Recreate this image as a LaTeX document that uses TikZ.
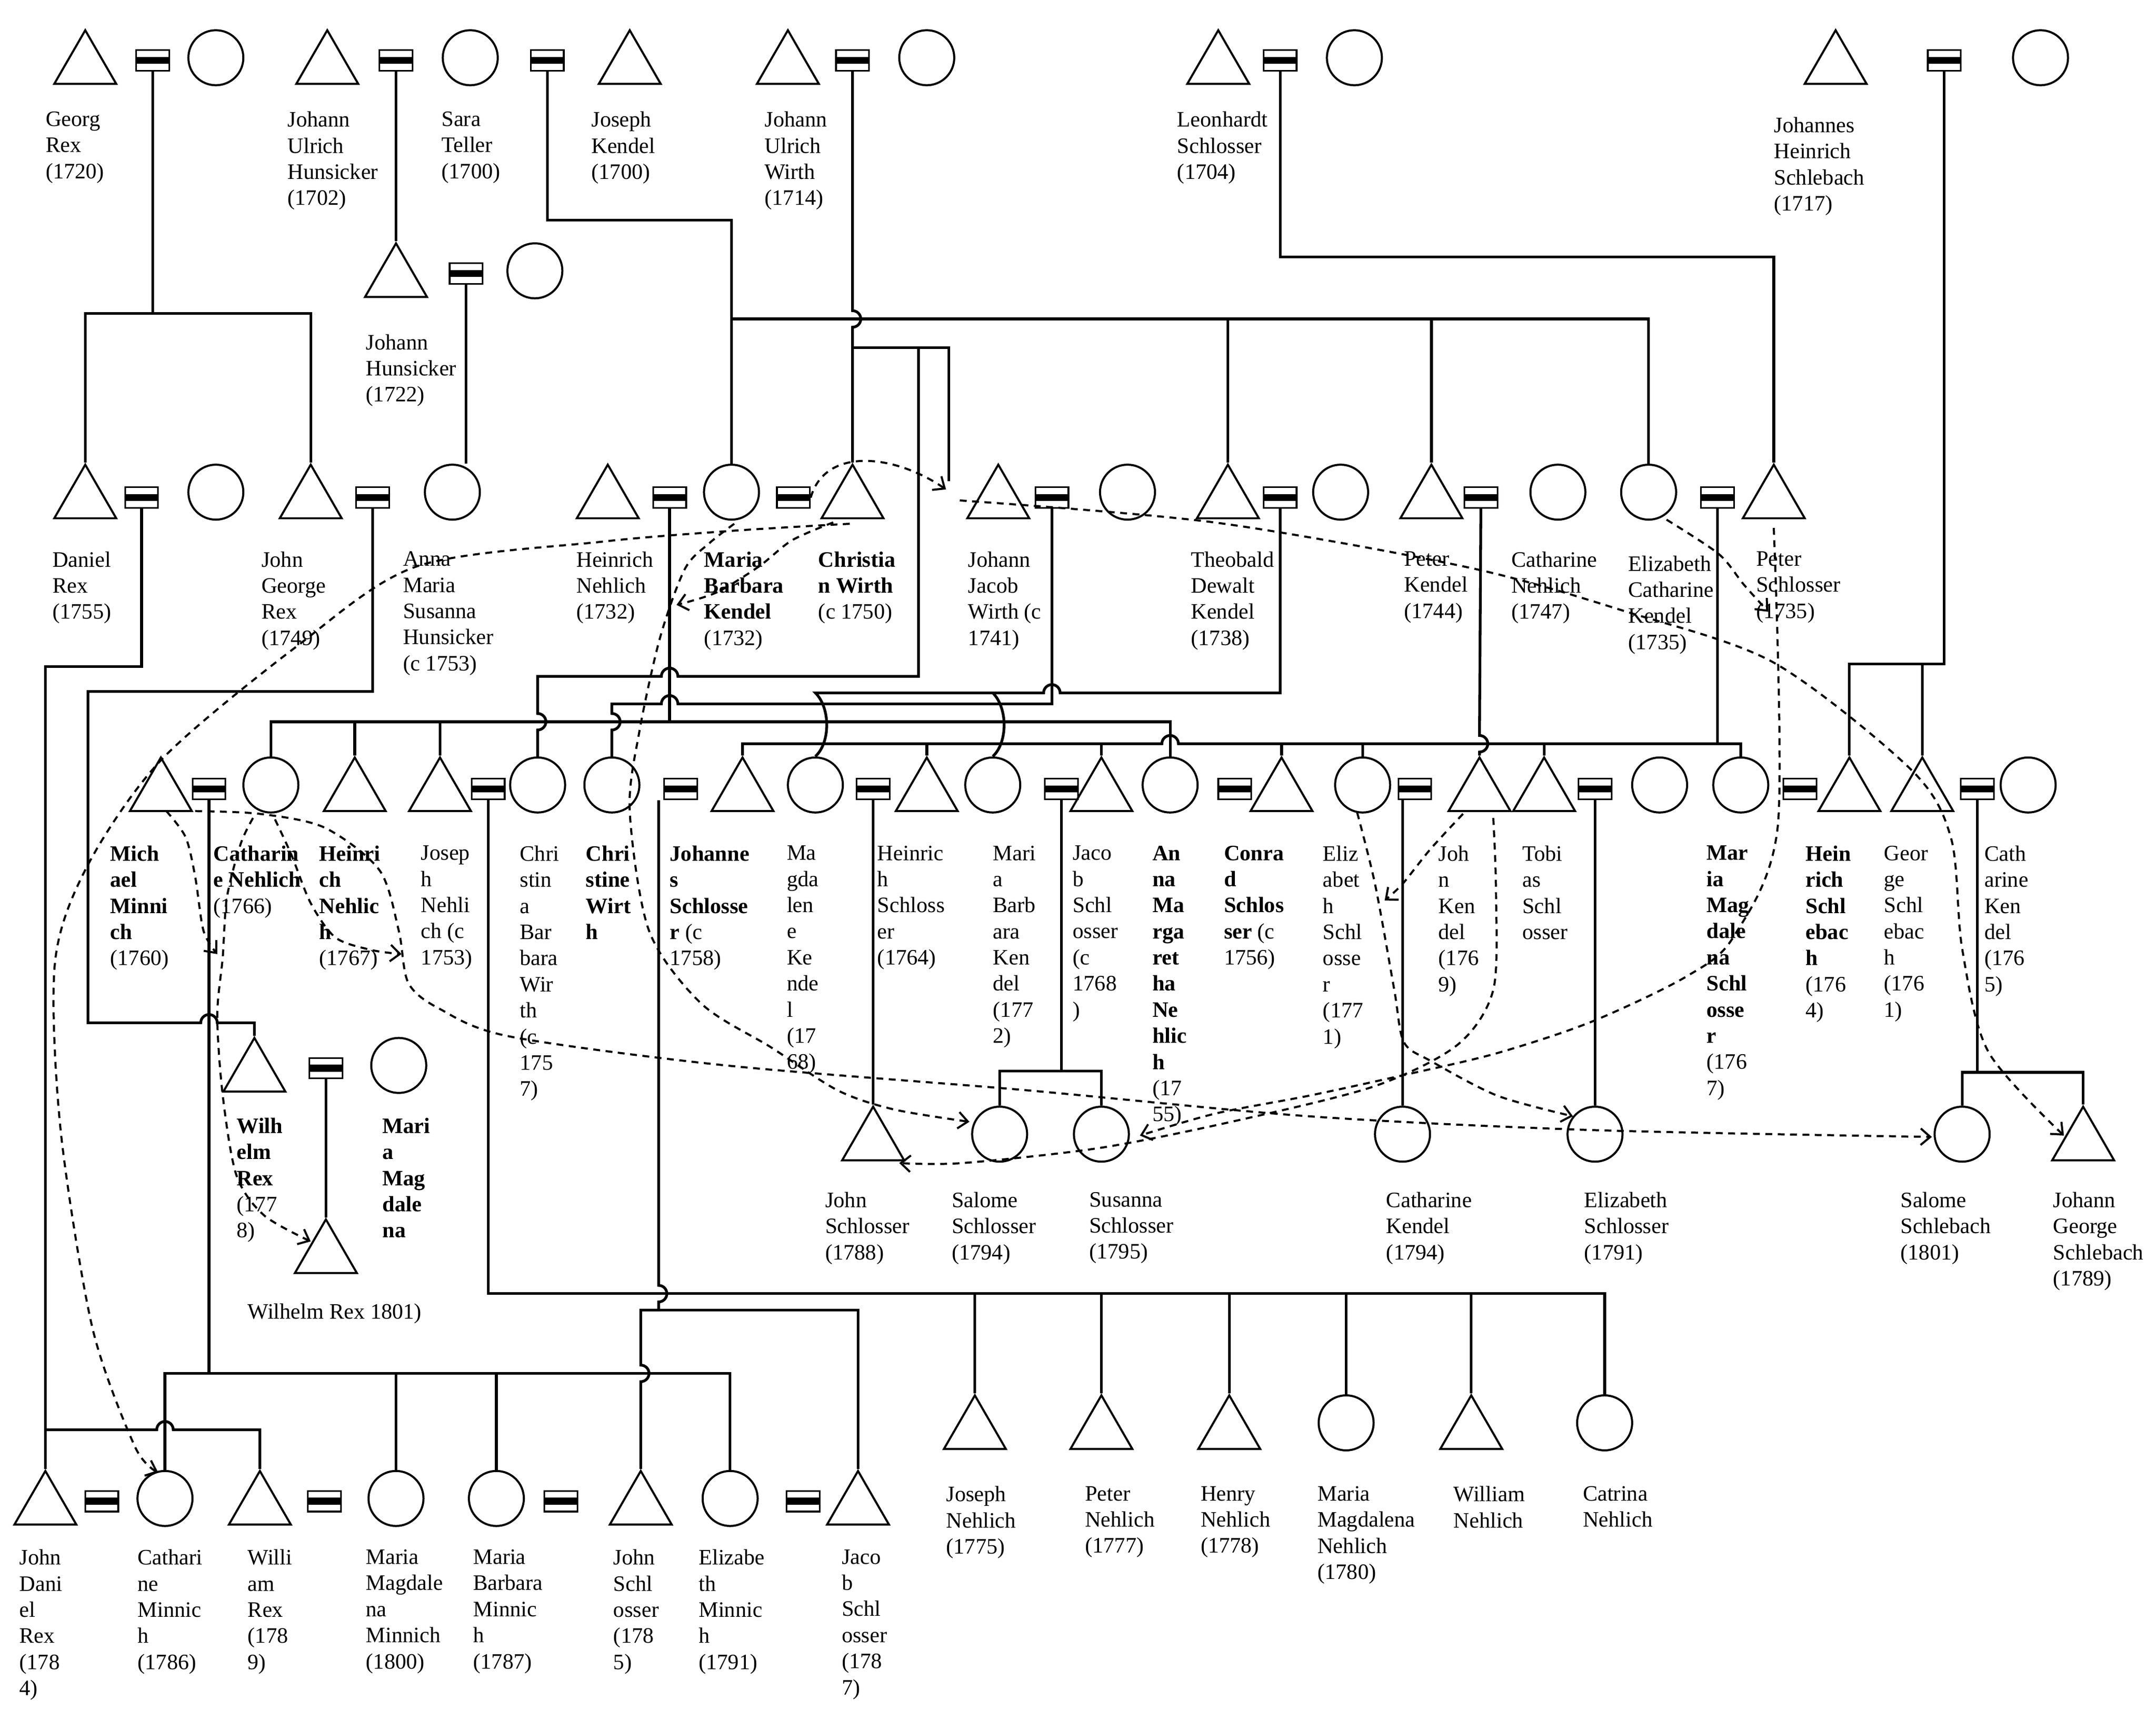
\documentclass[tikz,border=0pt]{standalone}
\usepackage{fontspec}
\setmainfont{Liberation Serif}
\usetikzlibrary{shapes.geometric,arrows.meta,calc}
\begin{document}
\begin{tikzpicture}[x=1pt,y=-1pt,
 male/.style={regular polygon, regular polygon sides=3, draw, line width=1.5pt, minimum size=52pt, inner sep=0pt},
 fem/.style={circle, draw, line width=1.5pt, minimum size=40pt, inner sep=0pt},
 mar/.style={rectangle, draw, line width=1.2pt, minimum width=24pt, minimum height=15pt, inner sep=0pt,
   path picture={\fill ([yshift=-2.5pt]path picture bounding box.west) rectangle ([yshift=2.5pt]path picture bounding box.east);}},
 lbl/.style={anchor=north west, inner sep=0pt, align=left, font=\fontsize{16}{19}\selectfont},
 ln/.style={line width=2pt},
 dl/.style={line width=1.5pt, dash pattern=on 5pt off 4pt, -{Straight Barb[length=7pt,width=12pt]}}]
\useasboundingbox (0,0) rectangle (1568,1251);
% ---------- Row 1
\node[male] (GRex) at (62,48) {}; \node[mar] (GRm) at (111,44) {}; \node[fem] (GRw) at (157,42) {};
\node[male] (JUH) at (238,48) {}; \node[mar] (JUHm) at (288,44) {}; \node[fem] (ST) at (342,42) {};
\node[mar] (JKm) at (398,44) {}; \node[male] (JK) at (458,48) {};
\node[male] (JUW) at (573,48) {}; \node[mar] (JUWm) at (620,44) {}; \node[fem] (JUWw) at (674,42) {};
\node[male] (LS) at (886,48) {}; \node[mar] (LSm) at (931,44) {}; \node[fem] (LSw) at (985,42) {};
\node[male] (JHS) at (1335,48) {}; \node[mar] (JHSm) at (1414,44) {}; \node[fem] (JHSw) at (1484,42) {};
\node[lbl] (tGR) at (33,81) {Georg\\Rex\\(1720)};
\node[lbl] (tJUH) at (209,81) {Johann\\Ulrich\\Hunsicker\\(1702)};
\node[lbl] (tST) at (321,81) {Sara\\Teller\\(1700)};
\node[lbl] (tJK) at (430,81) {Joseph\\Kendel\\(1700)};
\node[lbl] (tJUW) at (556,81) {Johann\\Ulrich\\Wirth\\(1714)};
\node[lbl] (tLS) at (856,81) {Leonhardt\\Schlosser\\(1704)};
\node[lbl] (tJHS) at (1290,85) {Johannes\\Heinrich\\Schlebach\\(1717)};
% ---------- Row 1.5
\node[male] (JH) at (288,203) {}; \node[mar] (JHm) at (339,199) {}; \node[fem] (JHw) at (389,197) {};
\node[lbl] (tJH) at (266,243) {Johann\\Hunsicker\\(1722)};
% ---------- Row 2
\node[male] (DR) at (62,364) {}; \node[mar] (DRm) at (103,362) {}; \node[fem] (DRw) at (157,358) {};
\node[male] (JGR) at (226,364) {}; \node[mar] (JGRm) at (271,362) {}; \node[fem] (AMS) at (329,358) {};
\node[male] (HN) at (442,364) {}; \node[mar] (HNm) at (487,362) {}; \node[fem] (MBK) at (532,358) {};
\node[mar] (MBKm) at (577,362) {}; \node[male] (CW) at (620,364) {};
\node[male] (JJW) at (726,364) {}; \node[mar] (JJWm) at (765,362) {}; \node[fem] (JJWw) at (820,358) {};
\node[male] (TDK) at (893,364) {}; \node[mar] (TDKm) at (931,362) {}; \node[fem] (TDKw) at (975,358) {};
\node[male] (PK) at (1041,364) {}; \node[mar] (PKm) at (1077,362) {}; \node[fem] (CN) at (1133,358) {};
\node[fem] (ECK) at (1199,358) {}; \node[mar] (ECKm) at (1249,362) {}; \node[male] (PS) at (1290,364) {};
\node[lbl] (tDR) at (38,401) {Daniel\\Rex\\(1755)};
\node[lbl] (tJGR) at (190,401) {John\\George\\Rex\\(1749)};
\node[lbl] (tAMS) at (293,401) {Anna\\Maria\\Susanna\\Hunsicker\\(c 1753)};
\node[lbl] (tHN) at (419,401) {Heinrich\\Nehlich\\(1732)};
\node[lbl] (tMBK) at (512,401) {\textbf{Maria}\\\textbf{Barbara}\\\textbf{Kendel}\\(1732)};
\node[lbl] (tCW) at (595,401) {\textbf{Christia}\\\textbf{n Wirth}\\(c 1750)};
\node[lbl] (tJJW) at (704,401) {Johann\\Jacob\\Wirth (c\\1741)};
\node[lbl] (tTDK) at (866,401) {Theobald\\Dewalt\\Kendel\\(1738)};
\node[lbl] (tPK) at (1021,401) {Peter\\Kendel\\(1744)};
\node[lbl] (tCN) at (1099,401) {Catharine\\Nehlich\\(1747)};
\node[lbl] (tECK) at (1184,404) {Elizabeth\\Catharine\\Kendel\\(1735)};
\node[lbl] (tPS) at (1277,401) {Peter\\Schlosser\\(1735)};
% ---------- Row 3
\node[male] (MM) at (117,577) {}; \node[mar] (MMm) at (152,574) {}; \node[fem] (CNe) at (197,571) {};
\node[male] (HNe) at (258,577) {}; \node[male] (JN) at (320,577) {}; \node[mar] (JNm) at (355,574) {};
\node[fem] (CBW) at (391,571) {}; \node[fem] (CWi) at (445,571) {}; \node[mar] (CWim) at (495,574) {};
\node[male] (JS) at (540,577) {}; \node[fem] (MK) at (593,571) {}; \node[mar] (MKm) at (635,574) {};
\node[male] (HS) at (674,577) {}; \node[fem] (MBKe) at (722,571) {}; \node[mar] (MBKem) at (772,574) {};
\node[male] (JaS) at (801,577) {}; \node[fem] (AMN) at (851,571) {}; \node[mar] (AMNm) at (898,574) {};
\node[male] (CS) at (932,577) {}; \node[fem] (ES) at (991,571) {}; \node[mar] (ESm) at (1029,574) {};
\node[male] (JKe) at (1076,577) {}; \node[male] (TS) at (1123,577) {}; \node[mar] (TSm) at (1160,574) {};
\node[fem] (TSw) at (1207,571) {}; \node[fem] (MMS) at (1266,571) {}; \node[mar] (MMSm) at (1309,574) {};
\node[male] (HSc) at (1345,577) {}; \node[male] (GS) at (1398,577) {}; \node[mar] (GSm) at (1438,574) {};
\node[fem] (CK) at (1475,571) {};
\node[lbl] (tMM) at (80,615) {\textbf{Mich}\\\textbf{ael}\\\textbf{Minni}\\\textbf{ch}\\(1760)};
\node[lbl] (tCNe) at (155,615) {\textbf{Catharin}\\\textbf{e Nehlich}\\(1766)};
\node[lbl] (tHNe) at (232,615) {\textbf{Heinri}\\\textbf{ch}\\\textbf{Nehlic}\\\textbf{h}\\(1767)};
\node[lbl] (tJN) at (306,615) {Josep\\h\\Nehli\\ch (c\\1753)};
\node[lbl] (tCBW) at (378,615) {Chri\\stin\\a\\Bar\\bara\\Wir\\th\\(c\\175\\7)};
\node[lbl] (tCWi) at (426,615) {\textbf{Chri}\\\textbf{stine}\\\textbf{Wirt}\\\textbf{h}};
\node[lbl] (tJS) at (487,615) {\textbf{Johanne}\\\textbf{s}\\\textbf{Schlosse}\\\textbf{r} (c\\1758)};
\node[lbl] (tMK) at (572,615) {Ma\\gda\\len\\e\\Ke\\nde\\l\\(17\\68)};
\node[lbl] (tHS) at (638,615) {Heinric\\h\\Schloss\\er\\(1764)};
\node[lbl] (tMBKe) at (722,615) {Mari\\a\\Barb\\ara\\Ken\\del\\(177\\2)};
\node[lbl] (tJaS) at (780,615) {Jaco\\b\\Schl\\osser\\(c\\1768\\)};
\node[lbl] (tAMN) at (838,615) {\textbf{An}\\\textbf{na}\\\textbf{Ma}\\\textbf{rga}\\\textbf{ret}\\\textbf{ha}\\\textbf{Ne}\\\textbf{hlic}\\\textbf{h}\\(17\\55)};
\node[lbl] (tCS) at (890,615) {\textbf{Conra}\\\textbf{d}\\\textbf{Schlos}\\\textbf{ser} (c\\1756)};
\node[lbl] (tES) at (962,615) {Eliz\\abet\\h\\Schl\\osse\\r\\(177\\1)};
\node[lbl] (tJKe) at (1046,615) {Joh\\n\\Ken\\del\\(176\\9)};
\node[lbl] (tTS) at (1107,615) {Tobi\\as\\Schl\\osser};
\node[lbl] (tMMS) at (1241,615) {\textbf{Mar}\\\textbf{ia}\\\textbf{Mag}\\\textbf{dale}\\\textbf{na}\\\textbf{Schl}\\\textbf{osse}\\\textbf{r}\\(176\\7)};
\node[lbl] (tHSc) at (1313,615) {\textbf{Hein}\\\textbf{rich}\\\textbf{Schl}\\\textbf{ebac}\\\textbf{h}\\(176\\4)};
\node[lbl] (tGS) at (1370,615) {Geor\\ge\\Schl\\ebac\\h\\(176\\1)};
\node[lbl] (tCK) at (1443,615) {Cath\\arine\\Ken\\del\\(176\\5)};
% ---------- Row 3.5
\node[male] (WR) at (185,781) {}; \node[mar] (WRm) at (237,777) {}; \node[fem] (WRw) at (290,775) {};
\node[male] (WR2) at (237,913) {};
\node[lbl] (tWR) at (172,813) {\textbf{Wilh}\\\textbf{elm}\\\textbf{Rex}\\(177\\8)};
\node[lbl] (tWRw) at (278,813) {\textbf{Mari}\\\textbf{a}\\\textbf{Mag}\\\textbf{dale}\\\textbf{na}};
\node[lbl] (tWR2) at (180,948) {Wilhelm Rex 1801)};
% ---------- Row 4
\node[male] (JSc) at (635,831) {}; \node[fem] (SS) at (727,825) {}; \node[fem] (SuS) at (801,825) {};
\node[fem] (CKe) at (1020,825) {}; \node[fem] (ESc) at (1160,825) {};
\node[fem] (SSc) at (1427,825) {}; \node[male] (JGS) at (1515,831) {};
\node[lbl] (tJSc) at (600,867) {John\\Schlosser\\(1788)};
\node[lbl] (tSS) at (692,867) {Salome\\Schlosser\\(1794)};
\node[lbl] (tSuS) at (792,867) {Susanna\\Schlosser\\(1795)};
\node[lbl] (tCKe) at (1008,867) {Catharine\\Kendel\\(1794)};
\node[lbl] (tESc) at (1152,867) {Elizabeth\\Schlosser\\(1791)};
\node[lbl] (tSSc) at (1382,867) {Salome\\Schlebach\\(1801)};
\node[lbl] (tJGS) at (1493,867) {Johann\\George\\Schlebach\\(1789)};
% ---------- Row 5
\node[male] (JoN) at (709,1041) {}; \node[male] (PN) at (801,1041) {}; \node[male] (HeN) at (894,1041) {};
\node[fem] (MMN) at (979,1035) {}; \node[male] (WN) at (1070,1041) {}; \node[fem] (CaN) at (1167,1035) {};
\node[lbl] (tJoN) at (688,1081) {Joseph\\Nehlich\\(1775)};
\node[lbl] (tPN) at (789,1081) {Peter\\Nehlich\\(1777)};
\node[lbl] (tHeN) at (873,1081) {Henry\\Nehlich\\(1778)};
\node[lbl] (tMMN) at (958,1081) {Maria\\Magdalena\\Nehlich\\(1780)};
\node[lbl] (tWN) at (1057,1081) {William\\Nehlich};
\node[lbl] (tCaN) at (1151,1081) {Catrina\\Nehlich};
% ---------- Row 6
\node[male] (JDR) at (33,1096) {}; \node[mar] (JDRm) at (74,1092) {}; \node[fem] (CM) at (120,1090) {};
\node[male] (WiR) at (189,1096) {}; \node[mar] (WiRm) at (236,1092) {}; \node[fem] (MMM) at (288,1090) {};
\node[fem] (MBM) at (361,1090) {}; \node[mar] (MBMm) at (408,1092) {}; \node[male] (JSch) at (466,1096) {};
\node[fem] (EM) at (531,1090) {}; \node[mar] (EMm) at (584,1092) {}; \node[male] (JaSch) at (624,1096) {};
\node[lbl] (tJDR) at (14,1127) {John\\Dani\\el\\Rex\\(178\\4)};
\node[lbl] (tCM) at (100,1127) {Cathari\\ne\\Minnic\\h\\(1786)};
\node[lbl] (tWiR) at (180,1127) {Willi\\am\\Rex\\(178\\9)};
\node[lbl] (tMMM) at (266,1127) {Maria\\Magdale\\na\\Minnich\\(1800)};
\node[lbl] (tMBM) at (344,1127) {Maria\\Barbara\\Minnic\\h\\(1787)};
\node[lbl] (tJSch) at (446,1127) {John\\Schl\\osser\\(178\\5)};
\node[lbl] (tEM) at (508,1127) {Elizabe\\th\\Minnic\\h\\(1791)};
\node[lbl] (tJaSch) at (612,1127) {Jaco\\b\\Schl\\osser\\(178\\7)};
% ---------- solid connectors
\draw[ln] (GRm.south) -- (111,228);
\draw[ln] (DR.corner 1) -- (62,228) -- (226,228) -- (JGR.corner 1);
\draw[ln] (JUHm.south) -- (JH.corner 1);
\draw[ln] (JHm.south) -- (JHm.south |- AMS.north);
\draw[ln] (JKm.south) -- (398,160) -- (532,160) -- (MBK.north);
\draw[ln] (532,232) -- (1199,232) -- (ECK.north);
\draw[ln] (893,232) -- (TDK.corner 1);
\draw[ln] (1041,232) -- (PK.corner 1);
\draw[ln] (JUWm.south) -- (620,226) arc(270:450:6) -- (620,253) -- (CW.corner 1);
\draw[ln] (620,253) -- (690,253) -- (690,350);
\draw[ln] (CBW.north) -- (391,531) arc(90:-90:6) -- (391,492) -- (481,492) arc(180:360:6) -- (668,492) -- (668,253);
\draw[ln] (CWi.north) -- (445,531) arc(90:-90:6) -- (445,512) -- (481,512) arc(180:360:6) -- (765,512) -- (JJWm.south);
\draw[ln] (MK.north) .. controls (604,540) and (604,515) .. (593,504) -- (759,504) arc(180:360:6) -- (931,504) -- (TDKm.south);
\draw[ln] (722,504) .. controls (733,515) and (733,540) .. (MBKe.north);
\draw[ln] (HNm.south) -- (487,525);
\draw[ln] (CNe.north) -- (197,525) -- (851,525) -- (AMN.north);
\draw[ln] (HNe.corner 1) -- (258,525);
\draw[ln] (JN.corner 1) -- (320,525);
\draw[ln] (JS.corner 1) -- (540,541) -- (845,541) arc(180:360:6) -- (1266,541) -- (MMS.north);
\draw[ln] (HS.corner 1) -- (674,541);
\draw[ln] (JaS.corner 1) -- (801,541);
\draw[ln] (CS.corner 1) -- (932,541);
\draw[ln] (ES.north) -- (991,541);
\draw[ln] (TS.corner 1) -- (1123,541);
\draw[ln] (ECKm.south) -- (1249,541);
\draw[ln] (PKm.south) -- (1076,535) arc(270:450:6) -- (JKe.corner 1);
\draw[ln] (LSm.south) -- (931,187) -- (1290,187) -- (PS.corner 1);
\draw[ln] (JHSm.south) -- (1414,483) -- (1345,483) -- (HSc.corner 1);
\draw[ln] (1398,483) -- (GS.corner 1);
\draw[ln] (DRm.south) -- (103,485) -- (33,485) -- (JDR.corner 1);
\draw[ln] (JGRm.south) -- (271,503) -- (64,503) -- (64,744) -- (146,744) arc(180:360:6) -- (185,744) -- (WR.corner 1);
\draw[ln] (MMm.south) -- (152,999);
\draw[ln] (CM.north) -- (120,999) -- (531,999) -- (EM.north);
\draw[ln] (MMM.north) -- (288,999);
\draw[ln] (MBM.north) -- (361,999);
\draw[ln] (33,1040) -- (114,1040) arc(180:360:6) -- (189,1040) -- (WiR.corner 1);
\draw[ln] (JNm.south) -- (355,941) -- (1167,941) -- (CaN.north);
\draw[ln] (JoN.corner 1) -- (709,941);
\draw[ln] (PN.corner 1) -- (801,941);
\draw[ln] (HeN.corner 1) -- (894,941);
\draw[ln] (MMN.north) -- (979,941);
\draw[ln] (WN.corner 1) -- (1070,941);
\draw[ln] ($(CWim.south)+(-16,0)$) -- (479,935) arc(270:450:6) -- (479,953) -- (466,953) -- (466,993) arc(270:450:6) -- (JSch.corner 1);
\draw[ln] (479,953) -- (624,953) -- (JaSch.corner 1);
\draw[ln] (MKm.south) -- (JSc.corner 1);
\draw[ln] (MBKem.south) -- (772,779);
\draw[ln] (SS.north) -- (727,779) -- (801,779) -- (SuS.north);
\draw[ln] (ESm.south -| CKe.north) -- (CKe.north);
\draw[ln] (TSm.south -| ESc.north) -- (ESc.north);
\draw[ln] (GSm.south) -- ++(0,198);
\draw[ln] (SSc.north) -- (1427,780) -- (1515,780) -- (JGS.corner 1);
\draw[ln] (WRm.south) -- (WR2.corner 1);
% ---------- dashed connectors
\draw[dl] (MBKm.east) .. controls (600,325) and (650,330) .. (688,356);
\draw[dl] (JJW.west) plot[smooth] coordinates {(698,364) (883,380) (1069,413) (1183,445) (1290,482) (1390,560) (1419,610) (1427,690) (1446,765) (1501,826)};
\draw[dl] (ECK.south east) plot[smooth] coordinates {(1212,378) (1250,403) (1268,425) (1286,445)};
\draw[dl] (PS.south) plot[smooth] coordinates {(1290,384) (1293,600) (1261,681) (1227,710) (1158,743) (1089,766) (1021,782) (952,797) (884,810) (829,826)};
\draw[dl] (JKe.corner 1) plot[smooth] coordinates {(1086,595) (1088,650) (1086,720) (1060,760) (1000,790) (900,815) (800,835) (700,846) (654,846)};
\draw[dl] (JKe.corner 1) plot[smooth] coordinates {(1064,592) (1040,618) (1020,643) (1007,655)};
\draw[dl] (ES.north) plot[smooth] coordinates {(987,591) (1000,643) (1014,720) (1021,758) (1041,772) (1089,797) (1144,812)};
\draw[dl] (CW.south) plot[smooth] coordinates {(618,381) (534,386) (438,394) (303,412) (216,470) (118,552) (64,629) (40,700) (44,821) (67,965) (98,1052) (115,1071)};
\draw[dl] (CW.south) plot[smooth] coordinates {(606,380) (576,393) (552,412) (521,431) (492,440)};
\draw[dl] (MBK.south) plot[smooth] coordinates {(534,381) (516,395) (498,414) (480,464) (465,532) (458,590) (472,677) (510,730) (561,762) (609,793) (650,807) (705,816)};
\draw[dl] (MM.east) plot[smooth] coordinates {(142,590) (189,592) (236,602) (276,633) (290,677) (297,715) (320,734) (371,754) (528,775) (746,793) (952,812) (1158,822) (1405,827)};
\draw[dl] (CNe.south) plot[smooth] coordinates {(200,596) (212,622) (226,657) (244,682) (270,691) (292,694)};
\draw[dl] (MM.east) plot[smooth] coordinates {(121,590) (135,609) (142,638) (148,677) (158,694)};
\draw[dl] (CNe.south) plot[smooth] coordinates {(184,595) (175,614) (165,653) (162,696) (158,739) (162,797) (172,855) (192,884) (226,903)};
\end{tikzpicture}
\end{document}
